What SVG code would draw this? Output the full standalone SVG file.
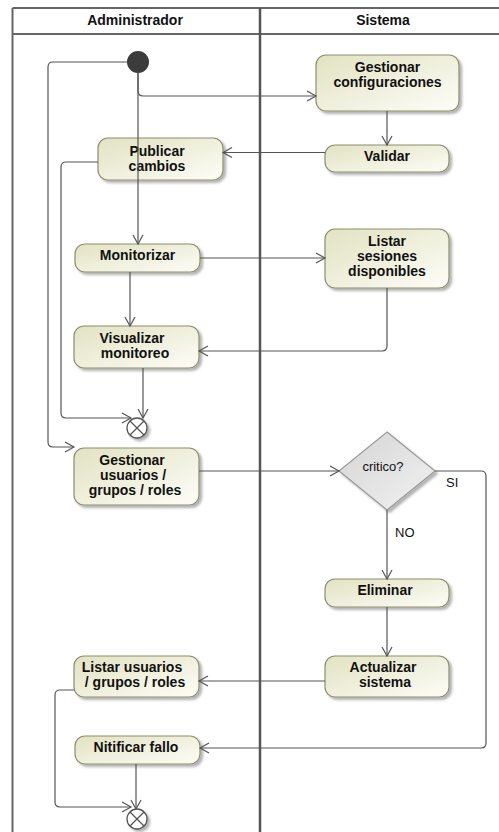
<svg xmlns="http://www.w3.org/2000/svg" width="499" height="832" viewBox="0 0 499 832">
<style>
.lane{stroke:#666;stroke-width:2;fill:none}
.hdr{font-family:"Liberation Sans",Arial,sans-serif;font-weight:bold;font-size:14px;fill:#111;text-anchor:middle}
.act{fill:url(#g);stroke:#8e8e6c;stroke-width:1.2;filter:url(#sh)}
.t{font-family:"Liberation Sans",Arial,sans-serif;font-weight:bold;font-size:14px;fill:#111;text-anchor:middle}
.c{fill:none;stroke:#555;stroke-width:1.2;marker-end:url(#arr)}
.lbl{font-family:"Liberation Sans",Arial,sans-serif;font-size:13px;fill:#111}
.fin{fill:#fff;stroke:#555;stroke-width:1.3;filter:url(#sh)}
</style>
<defs>
<linearGradient id="g" x1="0" y1="0" x2="1" y2="1">
<stop offset="0" stop-color="#e2e2c2"/>
<stop offset="1" stop-color="#fdfdf8"/>
</linearGradient>
<linearGradient id="gd" x1="0" y1="0" x2="1" y2="1">
<stop offset="0" stop-color="#d4d4d4"/>
<stop offset="1" stop-color="#f2f2f2"/>
</linearGradient>
<filter id="sh" x="-20%" y="-20%" width="150%" height="150%">
<feDropShadow dx="2.5" dy="2.5" stdDeviation="1.3" flood-color="#000" flood-opacity="0.3"/>
</filter>
<marker id="arr" markerWidth="12" markerHeight="12" refX="10" refY="6" orient="auto" markerUnits="userSpaceOnUse">
<path d="M1,1 L10,6 L1,11" fill="none" stroke="#555" stroke-width="1.2"/>
</marker>
</defs>
<rect width="499" height="832" fill="#fff"/>
<g id="swimlanes">
<path class="lane" d="M12.5,8 H499 M12.5,34 H499 M12.5,8 V832"/>
<path d="M260,8 V832" stroke="#555" stroke-width="2.5"/>
<text class="hdr" x="135" y="25">Administrador</text>
<text class="hdr" x="383" y="25">Sistema</text>
</g>
<g id="start"><circle cx="138" cy="62" r="11" fill="#3c3c3c"/></g>
<g id="gestionar-config"><rect class="act" x="316" y="55" width="143" height="56" rx="10"/><text class="t" x="387.5" y="72">Gestionar</text><text class="t" x="387.5" y="87">configuraciones</text></g>
<g id="validar"><rect class="act" x="325" y="145" width="124" height="27" rx="10"/><text class="t" x="387" y="161">Validar</text></g>
<g id="publicar"><rect class="act" x="98" y="138" width="125" height="42" rx="10"/><text class="t" x="157" y="156">Publicar</text><text class="t" x="157" y="171">cambios</text></g>
<g id="monitorizar"><rect class="act" x="75" y="244" width="125" height="28" rx="10"/><text class="t" x="137.5" y="260">Monitorizar</text></g>
<g id="listar-sesiones"><rect class="act" x="325" y="229" width="124" height="59" rx="10"/><text class="t" x="387" y="246">Listar</text><text class="t" x="387" y="261">sesiones</text><text class="t" x="387" y="276">disponibles</text></g>
<g id="visualizar"><rect class="act" x="74" y="326" width="125" height="42" rx="10"/><text class="t" x="132" y="343">Visualizar</text><text class="t" x="135" y="358">monitoreo</text></g>
<g id="final1"><circle class="fin" cx="137" cy="428" r="10"/><path d="M130,421 L144,435 M144,421 L130,435" stroke="#555" stroke-width="1.3"/></g>
<g id="gestionar-usuarios"><rect class="act" x="74" y="448" width="125" height="57" rx="10"/><text class="t" x="132" y="465">Gestionar</text><text class="t" x="133" y="480">usuarios /</text><text class="t" x="135" y="495">grupos / roles</text></g>
<g id="critico"><polygon points="387,432 435,471 387,510 339,471" fill="url(#gd)" stroke="#999" stroke-width="1.2" filter="url(#sh)"/><text class="lbl" x="383" y="471" text-anchor="middle">critico?</text></g>
<g id="eliminar"><rect class="act" x="325" y="579" width="124" height="28" rx="10"/><text class="t" x="385" y="595">Eliminar</text></g>
<g id="actualizar"><rect class="act" x="325" y="656" width="124" height="41" rx="10"/><text class="t" x="383" y="672">Actualizar</text><text class="t" x="385" y="687">sistema</text></g>
<g id="listar-usuarios"><rect class="act" x="74" y="656" width="125" height="41" rx="10"/><text class="t" x="132" y="672">Listar usuarios</text><text class="t" x="135" y="687">/ grupos / roles</text></g>
<g id="notificar"><rect class="act" x="75" y="736" width="125" height="28" rx="10"/><text class="t" x="136" y="752">Nitificar fallo</text></g>
<g id="final2"><circle class="fin" cx="137" cy="819" r="10"/><path d="M130,812 L144,826 M144,812 L130,826" stroke="#555" stroke-width="1.3"/></g>
<g id="connectors">
<path class="c" d="M138,73 V91 Q138,96 143,96 H316"/>
<path class="c" d="M138,73 V244"/>
<path class="c" d="M127,62 H53 Q48,62 48,67 V442 Q48,447 53,447 H74"/>
<path class="c" d="M387,111 V145"/>
<path class="c" d="M325,152.5 H223"/>
<path class="c" d="M98,162 H66 Q61,162 61,167 V413 Q61,418 66,418 H131"/>
<path class="c" d="M130,272 V326"/>
<path class="c" d="M200,258 H325"/>
<path class="c" d="M387,288 V346 Q387,351 382,351 H199"/>
<path class="c" d="M143,368 V418"/>
<path class="c" d="M199,471 H339"/>
<path class="c" d="M387,510 V579"/>
<path class="c" d="M435,471 H481 Q486,471 486,476 V743 Q486,748 481,748 H200"/>
<path class="c" d="M387,607 V656"/>
<path class="c" d="M325,681 H199"/>
<path class="c" d="M74,690 H60 Q55,690 55,695 V802 Q55,807 60,807 H131"/>
<path class="c" d="M136,764 V809"/>
<text class="lbl" x="395" y="537">NO</text>
<text class="lbl" x="446" y="487">SI</text>
</g>
</svg>
